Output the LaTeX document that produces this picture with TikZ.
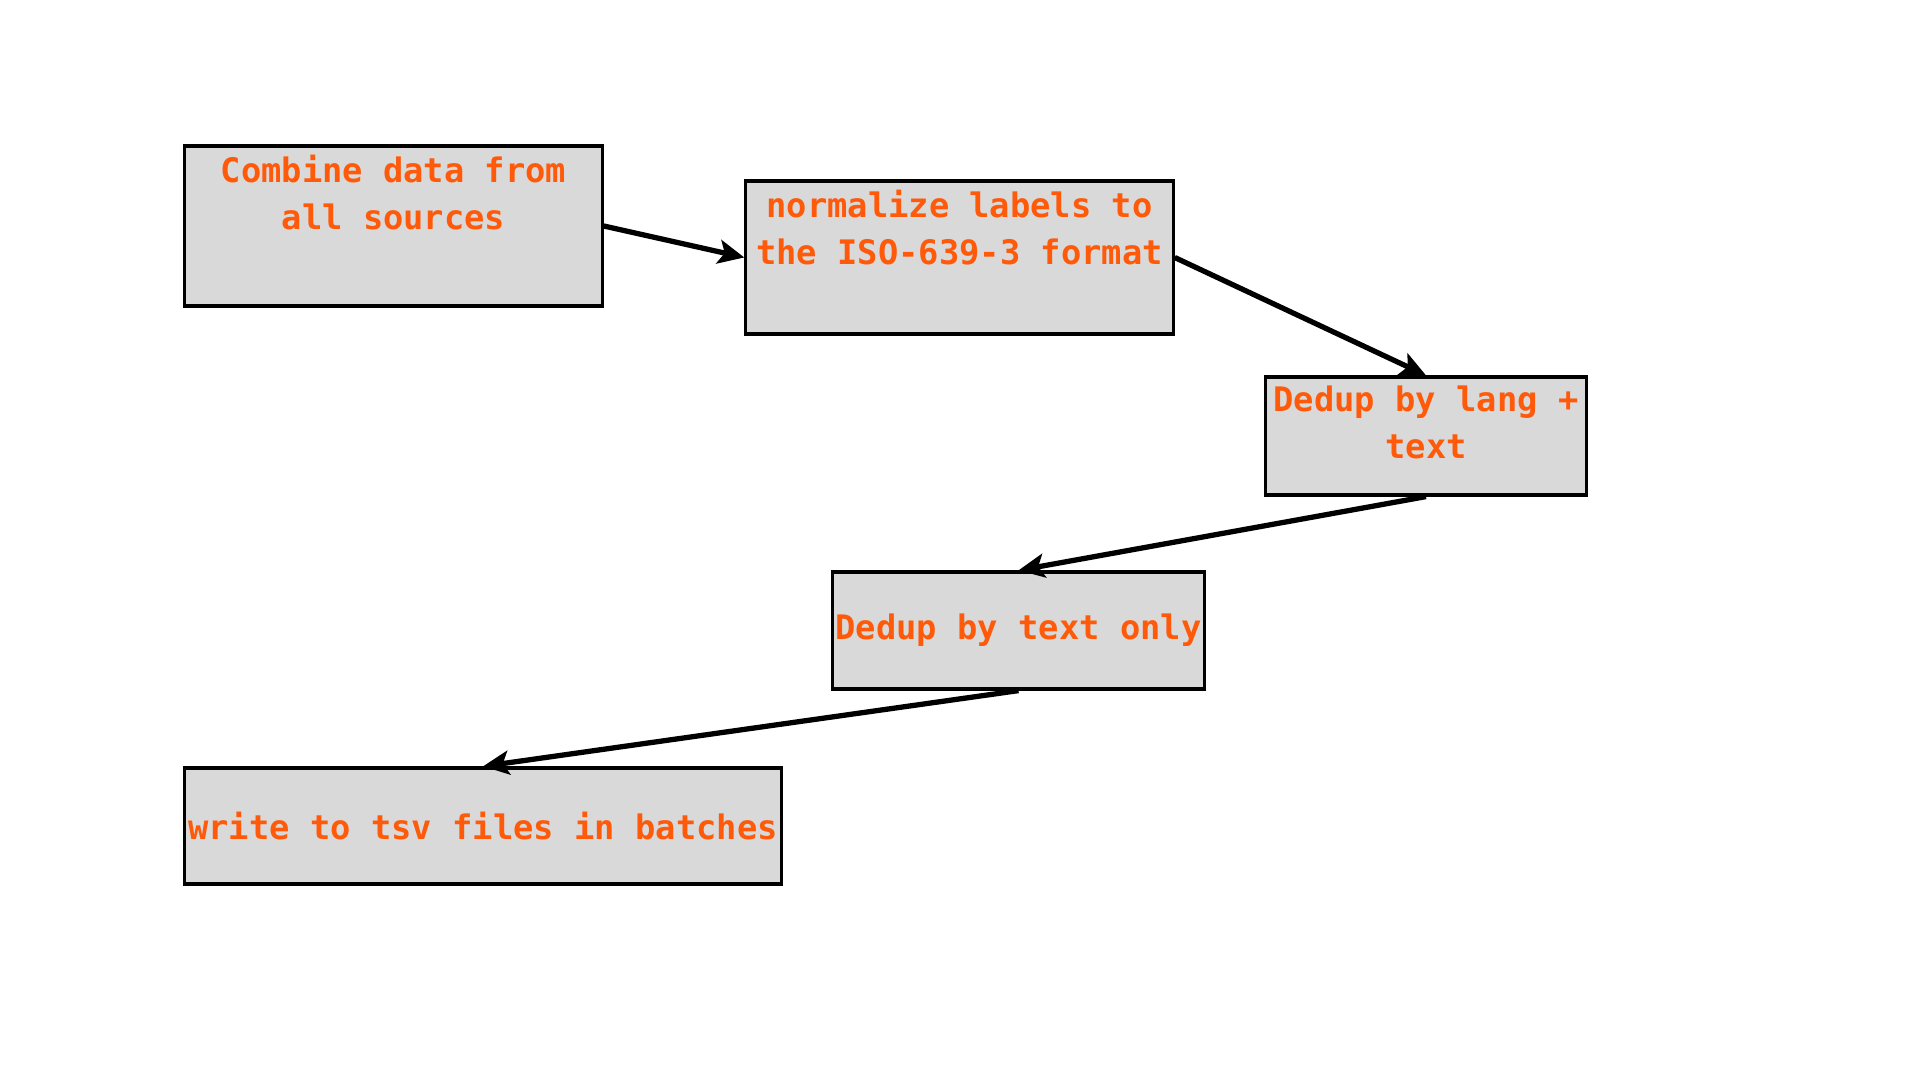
\documentclass[tikz,border=0pt]{standalone}
\usepackage{fontspec}
\setmonofont{DejaVu Sans Mono}
\usetikzlibrary{arrows.meta,positioning}
\definecolor{stepfill}{HTML}{D9D9D9}
\definecolor{steptext}{HTML}{FF5A0A}
\tikzset{
  stagebox/.style={draw=black,line width=0.9pt,fill=stepfill,inner sep=0pt},
  stagelabel/.style={below=0.1cm,text=steptext,font=\ttfamily\bfseries\fontsize{9.6}{13.4}\selectfont,align=center,inner sep=0pt},
  flow/.style={line width=1.5pt,-{Stealth[length=0.26cm,width=0.24cm,inset=0.06cm]}}
}
\begin{document}
\begin{tikzpicture}[x=0.01cm,y=0.01cm]
  \useasboundingbox (0,0) rectangle (1920,1080);
  % boxes
  \node[stagebox,minimum width=4.17cm,minimum height=1.60cm] (combine) at (393.5,854) {};
  \node[stagebox,minimum width=4.27cm,minimum height=1.53cm] (normalize) at (959.5,822.5) {};
  \node[stagebox,minimum width=3.20cm,minimum height=1.18cm] (deduplang) at (1426,644) {};
  \node[stagebox,minimum width=3.71cm,minimum height=1.17cm] (deduptext) at (1018.5,449.5) {};
  \node[stagebox,minimum width=5.96cm,minimum height=1.16cm] (write) at (483,254) {};
  % labels
  \node[stagelabel] (combinelbl) at (combine.north) {Combine data from\\all sources};
  \node[stagelabel] (normalizelbl) at (normalize.north) {normalize labels to\\the ISO-639-3 format};
  \node[stagelabel] (deduplanglbl) at (deduplang.north) {Dedup by lang +\\text};
  \node[text=steptext,font=\ttfamily\bfseries\fontsize{9.6}{13.4}\selectfont] (deduptextlbl) at (deduptext) {Dedup by text only};
  \node[text=steptext,font=\ttfamily\bfseries\fontsize{9.6}{13.4}\selectfont] (writelbl) at (write) {write to tsv files in batches};
  % connectors
  \draw[flow] (combine.east) -- (normalize.west);
  \draw[flow] (normalize.east) -- (deduplang.north);
  \draw[flow] (deduplang.south) -- (deduptext.north);
  \draw[flow] (deduptext.south) -- (write.north);
\end{tikzpicture}
\end{document}
